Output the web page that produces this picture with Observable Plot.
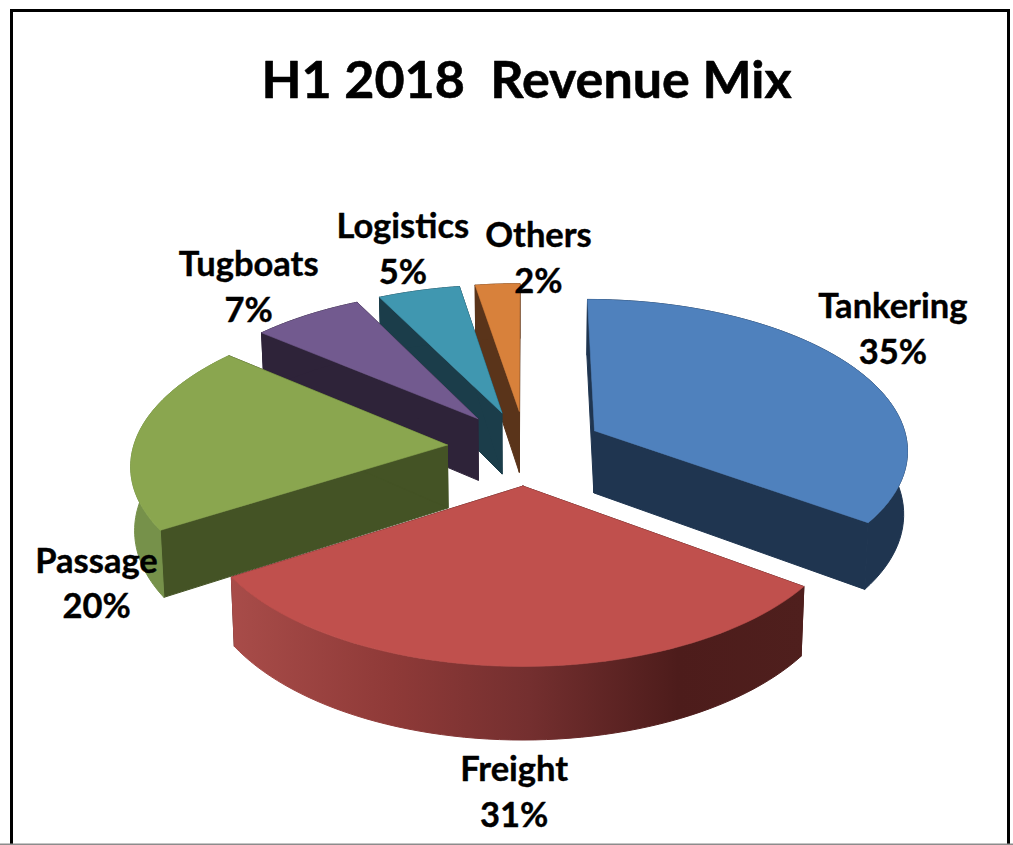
<!DOCTYPE html>
<html>
<head>
<meta charset="utf-8">
<script src="https://cdn.jsdelivr.net/npm/d3@7"></script>
<script src="https://cdn.jsdelivr.net/npm/@observablehq/plot@0.6"></script>
<style>
html,body{margin:0;padding:0;background:#fff;overflow:hidden}
</style>
</head>
<body>
<div id="chart"></div>
<script>
const title = "H1 2018  Revenue Mix";
const categories = ["Tankering", "Freight", "Passage", "Tugboats", "Logistics", "Others"];
const percentLabels = [35, 31, 20, 7, 5, 2];
const shares = [35.0, 31.0, 20.1, 6.5, 4.8, 2.6];

const topColors = ["#4f81bd", "#c0504d", "#8aa64f", "#725a8f", "#4097b0", "#d8813b"];
const wallColors = ["#1f3550", "#4d1c1b", "#445325", "#2e2339", "#1b3d4a", "#5a341a"];
const rimColors = ["#1f3550", "url(#freightRim)", "#76914a", "#2e2339", "#1b3d4a", "#5a341a"];
const labelDx = [39, 3, -41, -58, -16, 41];
const labelDy = [-41.5, 123, 145.5, -31, -44, -29];
const drawOrder = [5, 4, 3, 2, 0, 1];

// Pie view: centre, radii, perspective, extrusion and explosion
const view = {cx: 525, cy: 447, rx: 314, ry: 150, k: 0.115, depth: 63, shrink: 0.99, explode: 0.25};
const rad = d => d * Math.PI / 180;

function project(wx, wz, low) {
  const s = 1 / (1 + view.k * wz);
  return {
    x: view.cx + view.rx * wx * s * (low ? view.shrink : 1),
    y: view.cy - view.ry * wz * s + (low ? view.depth * s : 0)
  };
}

let cum = 0;
const slices = shares.map((v, i) => {
  const a0 = cum / 100 * 360;
  cum += v;
  const a1 = cum / 100 * 360;
  const mid = (a0 + a1) / 2;
  const ox = view.explode * Math.sin(rad(mid));
  const oz = view.explode * Math.cos(rad(mid));
  const at = (a, low) => project(ox + Math.sin(rad(a)), oz + Math.cos(rad(a)), low);
  const arc = low => d3.range(0, 61).map(j => at(a0 + (a1 - a0) * j / 60, low));
  const apex = low => project(ox, oz, low);
  return {
    i, mid, at,
    top: [apex(false), ...arc(false), apex(false)],
    rim: [...arc(false), ...arc(true).reverse(), at(a0, false)],
    wall0: [apex(false), at(a0, false), at(a0, true), apex(true), apex(false)],
    wall1: [apex(false), at(a1, false), at(a1, true), apex(true), apex(false)],
    label: project(ox + Math.sin(rad(mid)), oz + Math.cos(rad(mid)), false)
  };
});

const poly = (pts, color, w = 1) => Plot.line(pts, {x: "x", y: "y", fill: color, stroke: color, strokeWidth: w});

const pieMarks = drawOrder.flatMap(i => {
  const s = slices[i];
  return [
    poly(s.wall0, wallColors[i]),
    poly(s.wall1, wallColors[i]),
    poly(s.rim, rimColors[i]),
    poly(s.top, topColors[i], 0.6)
  ];
});

const labels = slices.map(s => Plot.text([s.label], {
  x: "x", y: "y",
  text: () => `${categories[s.i]}\n${percentLabels[s.i]}%`,
  dx: labelDx[s.i], dy: labelDy[s.i],
  fontSize: 34.5, fontWeight: 700, lineHeight: 1.33, fill: "#000", stroke: "#000", strokeWidth: 0.4
}));

const chart = Plot.plot({
  width: 1013, height: 845, margin: 0,
  x: {domain: [0, 1013], axis: null},
  y: {domain: [845, 0], axis: null},
  style: {fontFamily: "Lato, 'Open Sans', sans-serif", background: "#fff", overflow: "hidden", whiteSpace: "pre"},
  marks: [
    () => d3.create("svg:defs").html(`
      <linearGradient id="freightRim" x1="0" x2="1" y1="0" y2="0">
        <stop offset="0" stop-color="#a84c49"/>
        <stop offset="0.28" stop-color="#8f3a38"/>
        <stop offset="0.52" stop-color="#742f2f"/>
        <stop offset="0.78" stop-color="#4d1c1b"/>
        <stop offset="1" stop-color="#4f1f1d"/>
      </linearGradient>`).node(),
    Plot.frame({insetLeft: 11, insetTop: 10, insetRight: 5, insetBottom: -6, stroke: "#000", strokeWidth: 3}),
    Plot.ruleY([844], {stroke: "#8c8c8c", strokeWidth: 2}),
    ...pieMarks,
    Plot.text([title], {frameAnchor: "top", dy: 61, dx: 19.5, fontSize: 52, fontWeight: 700, fill: "#000", stroke: "#000", strokeWidth: 0.6}),
    ...labels
  ]
});
document.getElementById("chart").append(chart);
</script>
</body>
</html>
